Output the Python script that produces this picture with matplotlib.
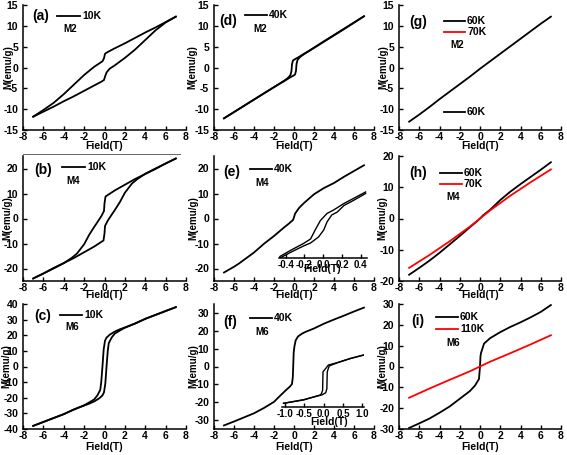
import matplotlib
matplotlib.use('Agg')
import matplotlib.pyplot as plt
from matplotlib.lines import Line2D

plt.rcParams['font.family'] = ['Liberation Sans', 'DejaVu Sans']
plt.rcParams['font.weight'] = 'bold'
plt.rcParams['axes.unicode_minus'] = False

# ---------------- data ----------------
# (a) M2, 10K
a_desc_x = [7, 6, 5, 4, 3, 2, 1, 0.3, 0.05, -0.05, -0.2, -0.5, -1, -2, -3, -4, -5, -6, -7]
a_desc_y = [12.2, 10.9, 9.6, 8.4, 7.1, 5.8, 4.6, 3.7, 3.3, 2.2, 1.5, 1.0, 0.2, -1.8, -4.1, -6.4, -8.5, -10.2, -11.8]
a_asc_x = [-7, -6, -5, -4, -3, -2, -1, -0.3, -0.05, 0.05, 0.2, 0.5, 1, 2, 3, 4, 5, 6, 7]
a_asc_y = [-11.8, -10.6, -9.4, -8.1, -6.9, -5.6, -4.3, -3.4, -3.0, -2.2, -1.2, -0.3, 0.5, 2.3, 4.3, 6.6, 8.9, 10.8, 12.2]
# (d) M2, 40K
d_desc_x = [7, 5, 3, 1.5, 1, 0.7, 0.4, 0.1, -0.1, -0.2, -0.25, -0.35, -0.6, -1, -3, -5, -7]
d_desc_y = [12.3, 9.3, 6.3, 4.0, 3.3, 2.85, 2.4, 2.0, 1.7, 0.8, -0.8, -1.8, -2.5, -3.2, -6.2, -9.2, -12.2]
d_asc_x = [-7, -5, -3, -1.5, -1, -0.7, -0.4, -0.1, 0.1, 0.2, 0.25, 0.35, 0.6, 1, 3, 5, 7]
d_asc_y = [-12.2, -9.2, -6.2, -4.0, -3.3, -2.85, -2.4, -2.0, -1.7, -0.8, 0.8, 1.8, 2.5, 3.2, 6.2, 9.2, 12.3]
# (g) M2, 60K
g_x = [-7, -6, -5, -4, -3.5, -3, -2, -1, 0, 1, 2, 3, 4, 5, 6, 7]
g_y = [-13.0, -11.3, -9.5, -7.6, -6.7, -5.8, -4.0, -2.2, -0.3, 1.5, 3.3, 5.1, 6.9, 8.7, 10.5, 12.2]
# (b) M4, 10K
b_desc_x = [7, 6, 5, 4, 3, 2, 1, 0.1, 0.0, -0.05, -0.3, -0.7, -1, -1.5, -2, -2.7, -3.2, -4, -5, -6, -7]
b_desc_y = [24, 22, 19.8, 17.8, 15.8, 13.5, 11.2, 8.8, 6, 3, 1, -1.5, -3.3, -6.5, -10.3, -14, -15.7, -17.9, -20, -22, -24]
b_asc_x = [-7, -6, -5, -4, -3, -2, -1, -0.1, 0.0, 0.05, 0.3, 0.7, 1, 1.5, 2, 2.7, 3.2, 4, 5, 6, 7]
b_asc_y = [-24, -22, -19.8, -17.8, -15.8, -13.5, -11.2, -8.8, -6, -3, -1, 1.5, 3.3, 6.5, 10.3, 14, 15.7, 17.9, 20, 22, 24]
# (e) M4, 40K
e_x = [-7, -6, -5.5, -4, -3, -2, -1, -0.5, -0.1, 0.0, 0.1, 0.5, 1, 2, 3, 4, 5, 6, 7]
e_y = [-21.6, -19.3, -18.0, -13.6, -10.1, -7.0, -3.6, -2.0, -0.6, 0.5, 1.9, 4.2, 6.2, 9.7, 12.2, 14.2, 16.7, 19.0, 21.3]
e_in_desc_x = [0.45, 0.32, 0.22, 0.11, 0.04, -0.03, -0.08, -0.135, -0.21, -0.35, -0.46]
e_in_desc_y = [3.1, 2.45, 1.95, 1.3, 0.95, 0.25, -0.6, -1.6, -2.05, -2.75, -3.35]
e_in_asc_x = [-0.46, -0.35, -0.21, -0.135, -0.05, 0.005, 0.04, 0.09, 0.15, 0.22, 0.32, 0.45]
e_in_asc_y = [-3.5, -2.95, -2.3, -2.0, -1.4, -0.7, 0.1, 0.8, 1.1, 1.75, 2.25, 2.95]
# (h) M4, 60K / 70K
h60_x = [-7, -6, -5, -4, -3, -2, -1, -0.3, 0, 0.3, 1, 2, 3, 4, 5, 6, 7]
h60_y = [-18, -15.8, -13.5, -11, -8.3, -5.6, -2.8, -0.9, 0, 1, 2.8, 5.9, 8.6, 11, 13.3, 15.6, 18]
h70_x = [-7, -5, -3, -1, 0, 1, 3, 5, 7]
h70_y = [-15.8, -11.7, -7.3, -2.6, 0, 2.6, 7.3, 11.6, 15.7]
# (c) M6, 10K
c_desc_x = [7, 6, 5, 4, 3, 2, 1.5, 1, 0.5, 0.2, 0.05, -0.08, -0.2, -0.32, -0.42, -0.7, -1, -1.5, -2, -3, -4, -5, -6, -7]
c_desc_y = [38, 35.5, 33, 30.5, 27.5, 25, 23.8, 22.3, 20.3, 18.5, 16.5, 11, 0, -10, -15, -18.5, -21, -23, -24.8, -27.5, -30.5, -33, -35.5, -38]
c_asc_x = [-7, -6, -5, -4, -3, -2, -1.5, -1, -0.5, -0.2, -0.05, 0.08, 0.2, 0.32, 0.42, 0.7, 1, 1.5, 2, 3, 4, 5, 6, 7]
c_asc_y = [-38, -35.5, -33, -30.5, -27.5, -25, -23.8, -22.3, -20.3, -18.5, -16.5, -11, 0, 10, 15, 18.5, 21, 23, 24.8, 27.5, 30.5, 33, 35.5, 38]
# (f) M6, 40K
f_x = [-7, -6, -5, -4, -3, -2, -1.5, -0.8, -0.4, -0.2, -0.12, -0.08, -0.03, 0.05, 0.17, 0.4, 0.8, 1.2, 2, 3, 4, 5, 6, 7]
f_y = [-33, -30.8, -28.5, -26.2, -23.2, -19.8, -17.0, -13.2, -11.2, -9.8, -6, 0, 8, 11.5, 14.7, 16.8, 18.4, 19.5, 21.3, 24, 26.3, 28.5, 30.8, 33]
f_in_desc_x = [1.03, 0.69, 0.34, 0.12, 0.05, -0.02, -0.03, -0.06, -0.09, -0.52, -1.04]
f_in_desc_y = [14, 12, 9.4, 8.05, 6, 4, -7, -9, -9.8, -12.8, -14.8]
f_in_asc_x = [-1.04, -0.52, -0.05, 0.05, 0.08, 0.09, 0.14, 0.34, 0.69, 1.03]
f_in_asc_y = [-14.8, -12.6, -9.8, -8.5, -6, 4, 7.5, 9.3, 11.9, 14]
# (i) M6, 60K / 110K
i60_x = [-7, -6, -5, -4, -3, -2, -1, -0.5, -0.1, 0, 0.05, 0.1, 0.4, 1, 2, 3, 4, 5, 6, 7]
i60_y = [-29.5, -27.3, -25, -22.2, -19.2, -15.5, -11.8, -9.2, -6, 0, 5, 6.5, 11, 13.6, 16.5, 19, 21.2, 23.6, 26.2, 29.5]
i110_x = [-7, -5, -3, -1, 0, 1, 3, 5, 7]
i110_y = [-15, -10.6, -6.4, -2.3, 0, 2.3, 6.4, 10.6, 15]

x_ticks = [-8, -6, -4, -2, 0, 2, 4, 6, 8]
ticks_15 = [-15, -10, -5, 0, 5, 10, 15]
ticks_20 = [-20, -10, 0, 10, 20]
ticks_40 = [-40, -30, -20, -10, 0, 10, 20, 30, 40]
ticks_30 = [-30, -20, -10, 0, 10, 20, 30]

# ---------------- layout helpers ----------------
W, H = 567, 455
fig = plt.figure(figsize=(W / 100, H / 100), dpi=100)

def fx(x):
    return x / W

def fy(y):
    return 1 - y / H

COLS = [(23, 186), (214, 374), (399, 561)]
ROWS = [(5, 130), (156, 281), (304, 429)]
XLAB_Y = [146, 295, 447]
YLAB_X = [[8, 192, 383], [7, 193, 382], [6, 193, 382]]

def make_ax(r, c, ylim, yticks):
    (l, rr), (t, b) = COLS[c], ROWS[r]
    ax = fig.add_axes([fx(l), fy(b), (rr - l) / W, (b - t) / H])
    ax.patch.set_alpha(0)
    ax.set_xlim(-8, 8)
    ax.set_ylim(*ylim)
    ax.set_xticks(x_ticks)
    ax.set_yticks(yticks)
    for s in ('top', 'right'):
        ax.spines[s].set_visible(False)
    for s in ('left', 'bottom'):
        ax.spines[s].set_linewidth(1.1)
    ax.tick_params(direction='in', length=3, width=1.0, labelsize=7.5)
    ax.tick_params(axis='x', pad=1.5)
    ax.tick_params(axis='y', pad=3.5)
    ax.set_xlabel('Field(T)', fontsize=7.5, fontweight='bold', va='center')
    ax.xaxis.set_label_coords(fx((l + rr) / 2), fy(XLAB_Y[r]), transform=fig.transFigure)
    ax.set_ylabel('M(emu/g)', fontsize=7, fontweight='bold', va='center')
    ax.yaxis.set_label_coords(fx(YLAB_X[r][c]), fy((t + b) / 2), transform=fig.transFigure)
    return ax

def panel_label(cx, cy, s):
    fig.text(fx(cx), fy(cy), s, fontsize=10, fontweight='bold', ha='center', va='center')

def legend_item(x0, x1, y, label, color='black'):
    fig.add_artist(Line2D([fx(x0), fx(x1)], [fy(y), fy(y)], color=color, lw=1.3,
                          transform=fig.transFigure))
    fig.text(fx(x1 + 2), fy(y), label, fontsize=7.5, fontweight='bold', ha='left', va='center')

def sample_label(cx, cy, s):
    fig.text(fx(cx), fy(cy), s, fontsize=7, fontweight='bold', ha='center', va='center')

def make_inset(l, r, t, b, xlim, ylim, xticks, xticklabels, lab_xy):
    axi = fig.add_axes([fx(l), fy(b), (r - l) / W, (b - t) / H])
    axi.patch.set_alpha(0)
    axi.set_xlim(*xlim)
    axi.set_ylim(*ylim)
    for s in ('top', 'right', 'left'):
        axi.spines[s].set_visible(False)
    axi.spines['bottom'].set_linewidth(1.1)
    axi.set_yticks([])
    axi.set_xticks(xticks)
    axi.set_xticklabels(xticklabels)
    axi.tick_params(direction='in', length=3, width=1.0, labelsize=7, pad=1.5)
    fig.text(fx(lab_xy[0]), fy(lab_xy[1]), 'Field(T)', fontsize=7.5, fontweight='bold',
             ha='center', va='center')
    return axi

LW = 1.3

# (a)
ax = make_ax(0, 0, (-15, 15), ticks_15)
ax.plot(a_desc_x, a_desc_y, color='black', lw=LW)
ax.plot(a_asc_x, a_asc_y, color='black', lw=LW)
panel_label(41, 16, '(a)')
legend_item(57, 80, 16, '10K')
sample_label(70, 29, 'M2')

# (d)
ax = make_ax(0, 1, (-15, 15), ticks_15)
ax.plot(d_desc_x, d_desc_y, color='black', lw=LW)
ax.plot(d_asc_x, d_asc_y, color='black', lw=LW)
panel_label(228, 21, '(d)')
legend_item(245, 267, 15, '40K')
sample_label(260, 29, 'M2')

# (g)
ax = make_ax(0, 2, (-15, 15), ticks_15)
ax.plot(g_x, g_y, color='black', lw=LW)
panel_label(418, 22, '(g)')
legend_item(444, 465, 21, '60K')
legend_item(444, 465, 32, '70K', color='red')
sample_label(457, 45, 'M2')
legend_item(444, 465, 112, '60K')

# (b)
ax = make_ax(1, 0, (-25, 25), ticks_20)
ax.plot(b_desc_x, b_desc_y, color='black', lw=LW)
ax.plot(b_asc_x, b_asc_y, color='black', lw=LW)
panel_label(43, 170, '(b)')
legend_item(62, 85, 167, '10K')
sample_label(73, 181, 'M4')

# (e)
ax = make_ax(1, 1, (-25, 25), ticks_20)
ax.plot(e_x, e_y, color='black', lw=LW)
panel_label(232, 172, '(e)')
legend_item(250, 272, 169, '40K')
sample_label(262, 183, 'M4')
axi = make_inset(279, 367, 188, 258, (-0.47, 0.465), (-3.5, 3.5),
                 [-0.4, -0.2, 0.0, 0.2, 0.4], ['-0.4', '-0.2', '0.0', '0.2', '0.4'], (322, 269))
axi.plot(e_in_desc_x, e_in_desc_y, color='black', lw=1.0)
axi.plot(e_in_asc_x, e_in_asc_y, color='black', lw=1.0)

# (h)
ax = make_ax(1, 2, (-20, 20), ticks_20)
ax.plot(h60_x, h60_y, color='black', lw=LW)
ax.plot(h70_x, h70_y, color='red', lw=LW)
panel_label(418, 173, '(h)')
legend_item(440, 462, 173, '60K')
legend_item(440, 462, 184, '70K', color='red')
sample_label(453, 197, 'M4')

# (c)
ax = make_ax(2, 0, (-40, 40), ticks_40)
ax.plot(c_desc_x, c_desc_y, color='black', lw=LW)
ax.plot(c_asc_x, c_asc_y, color='black', lw=LW)
panel_label(43, 316, '(c)')
legend_item(60, 82, 315, '10K')
sample_label(72, 327, 'M6')

# (f)
ax = make_ax(2, 1, (-35, 35), ticks_30)
ax.plot(f_x, f_y, color='black', lw=LW)
panel_label(230, 322, '(f)')
legend_item(250, 272, 318, '40K')
sample_label(262, 332, 'M6')
axi = make_inset(282, 364, 350, 407, (-1.08, 1.04), (-17, 17),
                 [-1.0, -0.5, 0.0, 0.5, 1.0], ['-1.0', '-0.5', '0.0', '0.5', '1.0'], (329, 422))
axi.plot(f_in_desc_x, f_in_desc_y, color='black', lw=1.0)
axi.plot(f_in_asc_x, f_in_asc_y, color='black', lw=1.0)

# (i)
ax = make_ax(2, 2, (-30, 30), ticks_30)
ax.plot(i60_x, i60_y, color='black', lw=LW)
ax.plot(i110_x, i110_y, color='red', lw=LW)
panel_label(418, 321, '(i)')
legend_item(436, 458, 317, '60K')
legend_item(436, 458, 329, '110K', color='red')
sample_label(453, 343, 'M6')

# thin separator line visible under panel (a)
fig.add_artist(Line2D([fx(23), fx(180)], [fy(153.5), fy(153.5)], color='#666666', lw=0.7,
                      transform=fig.transFigure))

fig.savefig('out.png', dpi=100)
